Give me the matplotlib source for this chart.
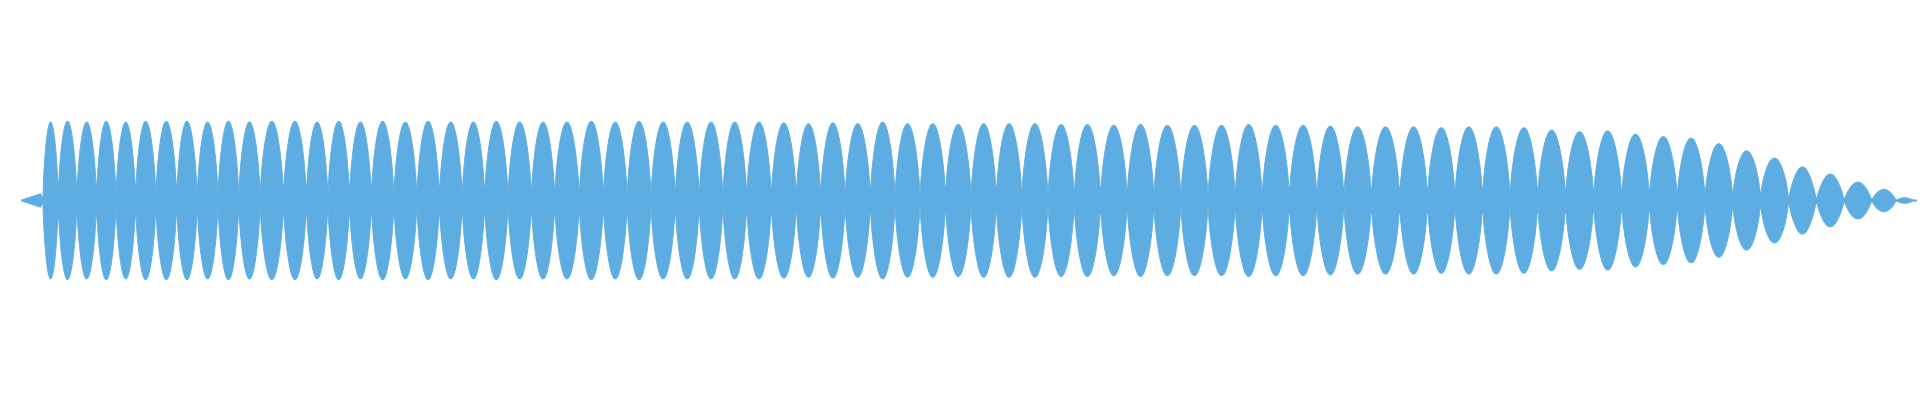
import numpy as np
import matplotlib
matplotlib.use("Agg")
import matplotlib.pyplot as plt

# waveform: lobe peak positions and peak levels (1.0 = full scale)
peak_t = [48.7, 66.7, 86, 106, 125, 145, 165.7, 186.7, 206.7, 228.3, 248.3, 271,
          295, 316.7, 338, 360, 381.7, 405, 427.7, 450, 473.3, 495, 520, 541.7,
          566.7, 590.7, 615, 638.3, 662.7, 686.7, 710.7, 734, 758.3, 783.3, 808.3,
          832, 857.3, 882.3, 906.7, 932.3, 957.7, 983.3, 1008.3, 1034.3, 1060.7, 1086.7,
          1113.3, 1140, 1166.7, 1194, 1221, 1248.3, 1275, 1302.7, 1330, 1356.7,
          1385, 1413.3, 1440.7, 1468.3, 1495.7, 1523.3, 1551, 1579, 1607.3, 1635,
          1662.7, 1690.7, 1718.3, 1746, 1774, 1801.7, 1830, 1857.3, 1885, 1906]
peak_amp = [0.98, 0.99, 0.98, 0.99, 0.98, 0.99, 0.99, 0.99, 0.98, 0.99, 0.98, 0.99,
            0.99, 0.98, 0.99, 0.98, 0.99, 0.98, 0.99, 0.98, 0.98, 0.99, 0.98, 0.98,
            0.98, 0.99, 0.98, 0.99, 0.98, 0.98, 0.98, 0.98, 0.98, 0.97, 0.96,
            0.97, 0.96, 0.98, 0.96, 0.96, 0.95, 0.96, 0.96, 0.96, 0.95, 0.95,
            0.94, 0.95, 0.94, 0.94, 0.94, 0.95, 0.94, 0.94, 0.93, 0.92,
            0.92, 0.92, 0.91, 0.92, 0.92, 0.91, 0.88, 0.86, 0.87, 0.83,
            0.80, 0.78, 0.71, 0.62, 0.53, 0.42, 0.33, 0.23, 0.14, 0.035]
wave_start = 42.5
wave_end = 1913

# short ramp before the first lobe and thin tail after the last
lead_t = [21, 40, 42.5]
lead_amp = [0.006, 0.085, 0.03]
tail_t = [1913, 1916]
tail_amp = [0.01, 0.006]

color = "#5dade2"

# lobe edges sit half way between neighbouring peaks
edges = [wave_start] + [(a + b) / 2 for a, b in zip(peak_t[:-1], peak_t[1:])] + [wave_end]

xs, ys = [], []
for i, amp in enumerate(peak_amp):
    u = np.linspace(0, 1, 60)
    # fuller lobe than a plain half sine, like the min/max envelope in the picture
    shape = np.sin(np.pi * u) ** 0.6 if amp > 0.5 else np.sin(np.pi * u) ** 0.8
    xs.append(edges[i] + u * (edges[i + 1] - edges[i]))
    ys.append(amp * np.maximum(shape, 0.07))
x = np.concatenate(xs)
y = np.concatenate(ys)

fig = plt.figure(figsize=(19.2, 4), dpi=100)
ax = fig.add_axes([0, 0, 1, 1])
ax.fill_between(lead_t, [-a for a in lead_amp], lead_amp, color=color, lw=0.6, ec=color)
ax.fill_between(x, -y, y, color=color, lw=0.6, ec=color)
ax.fill_between(tail_t, [-a for a in tail_amp], tail_amp, color=color, lw=0.6, ec=color)
ax.set_xlim(0, 1920)
ax.set_ylim(-2.5, 2.5)
ax.axis("off")

fig.savefig("out.png", dpi=100, facecolor="white")
